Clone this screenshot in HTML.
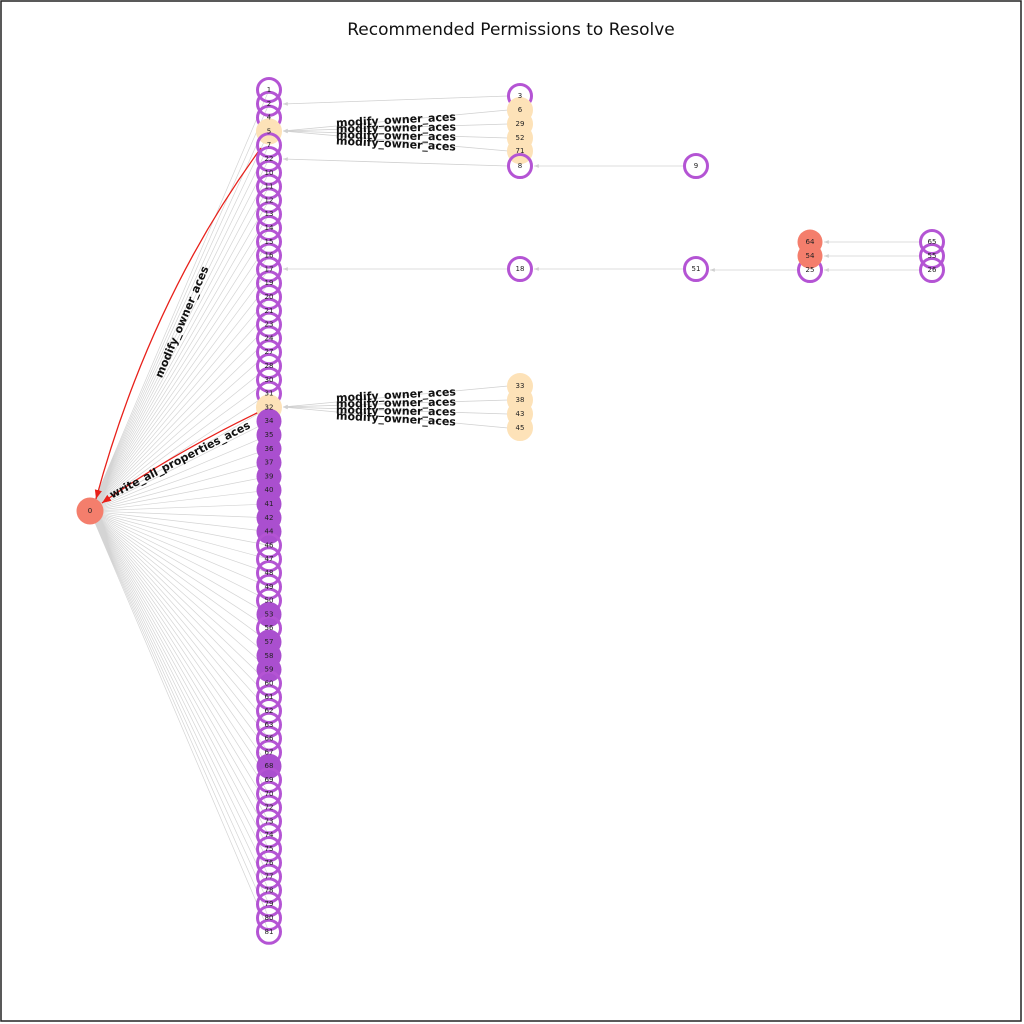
<!DOCTYPE html>
<html><head><meta charset="utf-8"><style>
html,body{margin:0;padding:0;background:#fff}
svg{display:block}
text{font-family:"DejaVu Sans","Liberation Sans",sans-serif}
.n{font-size:7px;fill:#222;text-anchor:middle;dominant-baseline:central}
.el{font-size:11px;font-weight:bold;fill:#111;text-anchor:middle;dominant-baseline:central}
</style></head><body>
<svg width="1024" height="1024" viewBox="0 0 1024 1024" xmlns="http://www.w3.org/2000/svg">
<defs>
<marker id="ga" viewBox="0 0 10 10" refX="10" refY="5" markerWidth="6" markerHeight="6" orient="auto"><path d="M0,1 L10,5 L0,9 z" fill="#d0d0d0"/></marker>
<marker id="ra" viewBox="0 0 10 10" refX="10" refY="5" markerWidth="7" markerHeight="7" orient="auto"><path d="M0,1 L10,5 L0,9 z" fill="#e8201a"/></marker>
</defs>
<rect x="1" y="1" width="1020" height="1020" fill="#fff" stroke="#222" stroke-width="1.5"/>
<text x="511" y="30" font-size="17" text-anchor="middle" dominant-baseline="central" fill="#111">Recommended Permissions to Resolve</text>

<g stroke="#d4d4d4" stroke-width="0.7" fill="none">
<path d="M269,90L90,511M269,103.8L90,511M269,117.6L90,511M269,131.4L90,511M269,145.2L90,511M269,159L90,511M269,172.8L90,511M269,186.6L90,511M269,200.4L90,511M269,214.2L90,511M269,228L90,511M269,241.8L90,511M269,255.6L90,511M269,269.4L90,511M269,283.2L90,511M269,297L90,511M269,310.8L90,511M269,324.6L90,511M269,338.4L90,511M269,352.2L90,511M269,366L90,511M269,379.8L90,511M269,393.6L90,511M269,407.4L90,511M269,421.2L90,511M269,435L90,511M269,448.8L90,511M269,462.6L90,511M269,476.4L90,511M269,490.2L90,511M269,504L90,511M269,517.8L90,511M269,531.6L90,511M269,545.4L90,511M269,559.2L90,511M269,573L90,511M269,586.8L90,511M269,600.6L90,511M269,614.4L90,511M269,628.2L90,511M269,642L90,511M269,655.8L90,511M269,669.6L90,511M269,683.4L90,511M269,697.2L90,511M269,711L90,511M269,724.8L90,511M269,738.6L90,511M269,752.4L90,511M269,766.2L90,511M269,780L90,511M269,793.8L90,511M269,807.6L90,511M269,821.4L90,511M269,835.2L90,511M269,849L90,511M269,862.8L90,511M269,876.6L90,511M269,890.4L90,511M269,904.2L90,511M269,918L90,511M269,931.8L90,511"/>
</g>
<g stroke="#d0d0d0" stroke-width="0.8" fill="none" marker-end="url(#ga)">
<line x1="508" y1="96" x2="283" y2="104"/>
<line x1="508" y1="110" x2="283" y2="131"/>
<line x1="508" y1="124" x2="283" y2="131"/>
<line x1="508" y1="138" x2="283" y2="131"/>
<line x1="508" y1="151" x2="283" y2="131"/>
<line x1="508" y1="166" x2="283" y2="159"/>
<line x1="684" y1="166" x2="534" y2="166"/>
<line x1="508" y1="269" x2="283" y2="269"/>
<line x1="684" y1="269" x2="534" y2="269"/>
<line x1="798" y1="270" x2="710" y2="270"/>
<line x1="920" y1="242" x2="824" y2="242"/>
<line x1="920" y1="256" x2="824" y2="256"/>
<line x1="920" y1="270" x2="824" y2="270"/>
<line x1="508" y1="386" x2="283" y2="407"/>
<line x1="508" y1="400" x2="283" y2="407"/>
<line x1="508" y1="414" x2="283" y2="407"/>
<line x1="508" y1="428" x2="283" y2="407"/>
</g>
<g stroke="#e8201a" stroke-width="1.3" fill="none" marker-end="url(#ra)">
<path d="M261,148 Q150,300 96,499"/>
<path d="M259,412 Q170,455 102,503"/>
</g>
<text class="el" transform="translate(182,322) rotate(-67)">modify_owner_aces</text>
<text class="el" transform="translate(180,460) rotate(-27)">write_all_properties_aces</text>
<g class="el">
<text x="396" y="120" transform="rotate(-3 396 120)">modify_owner_aces</text>
<text x="396" y="128" transform="rotate(-1 396 128)">modify_owner_aces</text>
<text x="396" y="136" transform="rotate(1 396 136)">modify_owner_aces</text>
<text x="396" y="144" transform="rotate(3 396 144)">modify_owner_aces</text>
<text x="396" y="395" transform="rotate(-3 396 395)">modify_owner_aces</text>
<text x="396" y="403" transform="rotate(-1 396 403)">modify_owner_aces</text>
<text x="396" y="411" transform="rotate(1 396 411)">modify_owner_aces</text>
<text x="396" y="419" transform="rotate(3 396 419)">modify_owner_aces</text>
</g>

<!-- column nodes -->
<g stroke-width="3">
<circle cx="269" cy="90" r="11.5" fill="none" stroke="#b454d4"/>
<circle cx="269" cy="103.8" r="11.5" fill="none" stroke="#b454d4"/>
<circle cx="269" cy="117.6" r="11.5" fill="none" stroke="#b454d4"/>
<circle cx="269" cy="131.4" r="11.5" fill="#fde2b8" stroke="#fde2b8"/>
<circle cx="269" cy="145.2" r="11.5" fill="none" stroke="#b454d4"/>
<circle cx="269" cy="159" r="11.5" fill="none" stroke="#b454d4"/>
<circle cx="269" cy="172.8" r="11.5" fill="none" stroke="#b454d4"/>
<circle cx="269" cy="186.6" r="11.5" fill="none" stroke="#b454d4"/>
<circle cx="269" cy="200.4" r="11.5" fill="none" stroke="#b454d4"/>
<circle cx="269" cy="214.2" r="11.5" fill="none" stroke="#b454d4"/>
<circle cx="269" cy="228" r="11.5" fill="none" stroke="#b454d4"/>
<circle cx="269" cy="241.8" r="11.5" fill="none" stroke="#b454d4"/>
<circle cx="269" cy="255.6" r="11.5" fill="none" stroke="#b454d4"/>
<circle cx="269" cy="269.4" r="11.5" fill="none" stroke="#b454d4"/>
<circle cx="269" cy="283.2" r="11.5" fill="none" stroke="#b454d4"/>
<circle cx="269" cy="297" r="11.5" fill="none" stroke="#b454d4"/>
<circle cx="269" cy="310.8" r="11.5" fill="none" stroke="#b454d4"/>
<circle cx="269" cy="324.6" r="11.5" fill="none" stroke="#b454d4"/>
<circle cx="269" cy="338.4" r="11.5" fill="none" stroke="#b454d4"/>
<circle cx="269" cy="352.2" r="11.5" fill="none" stroke="#b454d4"/>
<circle cx="269" cy="366" r="11.5" fill="none" stroke="#b454d4"/>
<circle cx="269" cy="379.8" r="11.5" fill="none" stroke="#b454d4"/>
<circle cx="269" cy="393.6" r="11.5" fill="none" stroke="#b454d4"/>
<circle cx="269" cy="407.4" r="11.5" fill="#fde2b8" stroke="#fde2b8"/>
<circle cx="269" cy="421.2" r="12.5" fill="#aa4fcf" stroke="none"/>
<circle cx="269" cy="435" r="12.5" fill="#aa4fcf" stroke="none"/>
<circle cx="269" cy="448.8" r="12.5" fill="#aa4fcf" stroke="none"/>
<circle cx="269" cy="462.6" r="12.5" fill="#aa4fcf" stroke="none"/>
<circle cx="269" cy="476.4" r="12.5" fill="#aa4fcf" stroke="none"/>
<circle cx="269" cy="490.2" r="12.5" fill="#aa4fcf" stroke="none"/>
<circle cx="269" cy="504" r="12.5" fill="#aa4fcf" stroke="none"/>
<circle cx="269" cy="517.8" r="12.5" fill="#aa4fcf" stroke="none"/>
<circle cx="269" cy="531.6" r="12.5" fill="#aa4fcf" stroke="none"/>
<circle cx="269" cy="545.4" r="11.5" fill="none" stroke="#b454d4"/>
<circle cx="269" cy="559.2" r="11.5" fill="none" stroke="#b454d4"/>
<circle cx="269" cy="573" r="11.5" fill="none" stroke="#b454d4"/>
<circle cx="269" cy="586.8" r="11.5" fill="none" stroke="#b454d4"/>
<circle cx="269" cy="600.6" r="11.5" fill="none" stroke="#b454d4"/>
<circle cx="269" cy="614.4" r="12.5" fill="#aa4fcf" stroke="none"/>
<circle cx="269" cy="628.2" r="11.5" fill="none" stroke="#b454d4"/>
<circle cx="269" cy="642" r="12.5" fill="#aa4fcf" stroke="none"/>
<circle cx="269" cy="655.8" r="12.5" fill="#aa4fcf" stroke="none"/>
<circle cx="269" cy="669.6" r="12.5" fill="#aa4fcf" stroke="none"/>
<circle cx="269" cy="683.4" r="11.5" fill="none" stroke="#b454d4"/>
<circle cx="269" cy="697.2" r="11.5" fill="none" stroke="#b454d4"/>
<circle cx="269" cy="711" r="11.5" fill="none" stroke="#b454d4"/>
<circle cx="269" cy="724.8" r="11.5" fill="none" stroke="#b454d4"/>
<circle cx="269" cy="738.6" r="11.5" fill="none" stroke="#b454d4"/>
<circle cx="269" cy="752.4" r="11.5" fill="none" stroke="#b454d4"/>
<circle cx="269" cy="766.2" r="12.5" fill="#aa4fcf" stroke="none"/>
<circle cx="269" cy="780" r="11.5" fill="none" stroke="#b454d4"/>
<circle cx="269" cy="793.8" r="11.5" fill="none" stroke="#b454d4"/>
<circle cx="269" cy="807.6" r="11.5" fill="none" stroke="#b454d4"/>
<circle cx="269" cy="821.4" r="11.5" fill="none" stroke="#b454d4"/>
<circle cx="269" cy="835.2" r="11.5" fill="none" stroke="#b454d4"/>
<circle cx="269" cy="849" r="11.5" fill="none" stroke="#b454d4"/>
<circle cx="269" cy="862.8" r="11.5" fill="none" stroke="#b454d4"/>
<circle cx="269" cy="876.6" r="11.5" fill="none" stroke="#b454d4"/>
<circle cx="269" cy="890.4" r="11.5" fill="none" stroke="#b454d4"/>
<circle cx="269" cy="904.2" r="11.5" fill="none" stroke="#b454d4"/>
<circle cx="269" cy="918" r="11.5" fill="none" stroke="#b454d4"/>
<circle cx="269" cy="931.8" r="11.5" fill="none" stroke="#b454d4"/>
</g>
<g class="n">
<text x="269" y="90">1</text><text x="269" y="103.8">2</text><text x="269" y="117.6">4</text><text x="269" y="131.4">5</text><text x="269" y="145.2">7</text><text x="269" y="159">22</text><text x="269" y="172.8">10</text><text x="269" y="186.6">11</text><text x="269" y="200.4">12</text><text x="269" y="214.2">13</text><text x="269" y="228">14</text><text x="269" y="241.8">15</text><text x="269" y="255.6">16</text><text x="269" y="269.4">17</text><text x="269" y="283.2">19</text><text x="269" y="297">20</text><text x="269" y="310.8">21</text><text x="269" y="324.6">23</text><text x="269" y="338.4">24</text><text x="269" y="352.2">27</text><text x="269" y="366">28</text><text x="269" y="379.8">30</text><text x="269" y="393.6">31</text><text x="269" y="407.4">32</text><text x="269" y="421.2">34</text><text x="269" y="435">35</text><text x="269" y="448.8">36</text><text x="269" y="462.6">37</text><text x="269" y="476.4">39</text><text x="269" y="490.2">40</text><text x="269" y="504">41</text><text x="269" y="517.8">42</text><text x="269" y="531.6">44</text><text x="269" y="545.4">46</text><text x="269" y="559.2">47</text><text x="269" y="573">48</text><text x="269" y="586.8">49</text><text x="269" y="600.6">50</text><text x="269" y="614.4">53</text><text x="269" y="628.2">56</text><text x="269" y="642">57</text><text x="269" y="655.8">58</text><text x="269" y="669.6">59</text><text x="269" y="683.4">60</text><text x="269" y="697.2">61</text><text x="269" y="711">62</text><text x="269" y="724.8">63</text><text x="269" y="738.6">66</text><text x="269" y="752.4">67</text><text x="269" y="766.2">68</text><text x="269" y="780">69</text><text x="269" y="793.8">70</text><text x="269" y="807.6">72</text><text x="269" y="821.4">73</text><text x="269" y="835.2">74</text><text x="269" y="849">75</text><text x="269" y="862.8">76</text><text x="269" y="876.6">77</text><text x="269" y="890.4">78</text><text x="269" y="904.2">79</text><text x="269" y="918">80</text><text x="269" y="931.8">81</text>
</g>

<!-- other nodes -->
<g stroke-width="3">
<circle cx="520" cy="96" r="11.5" fill="none" stroke="#b454d4"/>
<circle cx="520" cy="110" r="11.5" fill="#fde2b8" stroke="#fde2b8"/>
<circle cx="520" cy="124" r="11.5" fill="#fde2b8" stroke="#fde2b8"/>
<circle cx="520" cy="138" r="11.5" fill="#fde2b8" stroke="#fde2b8"/>
<circle cx="520" cy="151" r="11.5" fill="#fde2b8" stroke="#fde2b8"/>
<circle cx="520" cy="166" r="11.5" fill="none" stroke="#b454d4"/>
<circle cx="696" cy="166" r="11.5" fill="none" stroke="#b454d4"/>
<circle cx="520" cy="269" r="11.5" fill="none" stroke="#b454d4"/>
<circle cx="696" cy="269" r="11.5" fill="none" stroke="#b454d4"/>
<circle cx="810" cy="270" r="11.5" fill="none" stroke="#b454d4"/>
<circle cx="810" cy="256" r="12.5" fill="#f47e6c" stroke="none"/>
<circle cx="810" cy="242" r="12.5" fill="#f47e6c" stroke="none"/>
<circle cx="932" cy="242" r="11.5" fill="none" stroke="#b454d4"/>
<circle cx="932" cy="256" r="11.5" fill="none" stroke="#b454d4"/>
<circle cx="932" cy="270" r="11.5" fill="none" stroke="#b454d4"/>
<circle cx="520" cy="386" r="11.5" fill="#fde2b8" stroke="#fde2b8"/>
<circle cx="520" cy="400" r="11.5" fill="#fde2b8" stroke="#fde2b8"/>
<circle cx="520" cy="414" r="11.5" fill="#fde2b8" stroke="#fde2b8"/>
<circle cx="520" cy="428" r="11.5" fill="#fde2b8" stroke="#fde2b8"/>
<circle cx="90" cy="511" r="13.5" fill="#f47e6c" stroke="none"/>
</g>
<g class="n">
<text x="520" y="96">3</text><text x="520" y="110">6</text><text x="520" y="124">29</text><text x="520" y="138">52</text><text x="520" y="151">71</text><text x="520" y="166">8</text>
<text x="696" y="166">9</text><text x="520" y="269">18</text><text x="696" y="269">51</text>
<text x="810" y="242">64</text><text x="810" y="256">54</text><text x="810" y="270">25</text>
<text x="932" y="242">65</text><text x="932" y="256">55</text><text x="932" y="270">26</text>
<text x="520" y="386">33</text><text x="520" y="400">38</text><text x="520" y="414">43</text><text x="520" y="428">45</text>
<text x="90" y="511">0</text>
</g>
</svg>
</body></html>
